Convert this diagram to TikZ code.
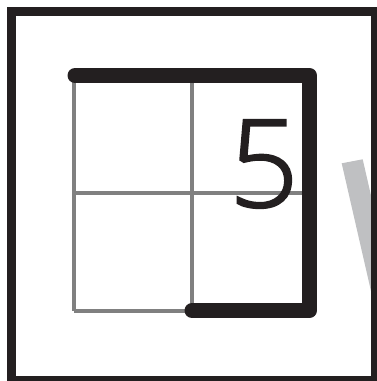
\documentclass[tikz,border=0pt]{standalone}
\usepackage{fontspec}
\newfontfamily\digitfont{Open Sans Light}[FakeBold=1.6]
\definecolor{inkblack}{RGB}{35,31,32}
\definecolor{lightgray}{RGB}{191,192,194}
\tikzset{gridline/.style={draw=black!50,line width=3.4pt},
  thickline/.style={draw=inkblack,line width=15pt,line cap=round,line join=round}}
\begin{document}
\begin{tikzpicture}[x=1pt,y=-1pt]
\useasboundingbox (0,0) rectangle (377,381);
\clip (0,0) rectangle (377,381);
\begin{scope}
\clip (0,0) rectangle (371,381);
\fill[lightgray] (341.7,163.3) -- (362.7,159.3) -- (400,322) -- (379,326) -- cycle;
\end{scope}
\draw[draw=inkblack,line width=9pt] (11.5,11.5) rectangle (375.5,380.5);
\draw[gridline] (74,75) -- (74,311);
\draw[gridline] (192,75) -- (192,311);
\draw[gridline] (309,75) -- (309,311);
\draw[gridline] (74,75) -- (309,75);
\draw[gridline] (74,193) -- (309,193);
\draw[gridline] (74,311) -- (309,311);
\node[anchor=base,inner sep=0pt,text=inkblack,font=\digitfont\fontsize{122}{122}\selectfont] (five) at (264,207) {5};
\draw[thickline] (75,75.5) -- (309.5,75.5) -- (309.5,310.5) -- (192,310.5);
\end{tikzpicture}
\end{document}
